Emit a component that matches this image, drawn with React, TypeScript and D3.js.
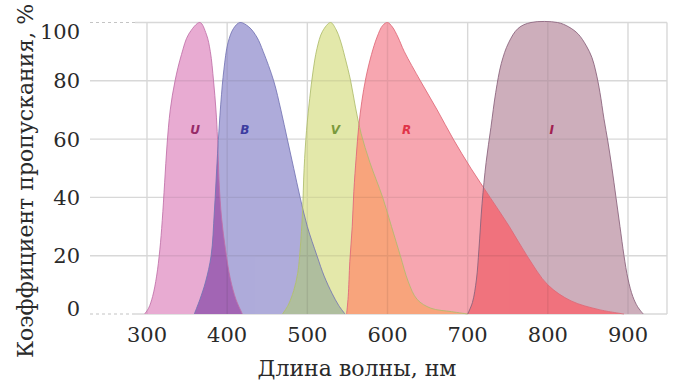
import React from "react";
import { scaleLinear, area, line, curveCatmullRom } from "d3";

// transmission curves, [wavelength nm, percent]
const uBand: [number, number][] = [
  [297, 0], [302, 2], [307, 6], [312, 13], [316, 22], [319, 32], [322, 45], [325, 58],
  [329, 70], [335, 80], [343, 89], [352, 96], [366, 100], [374, 96], [379, 90], [383, 80],
  [386, 70], [388, 60], [390, 45], [393, 33], [398, 22], [404, 12], [411, 5], [419, 0],
];
const bBand: [number, number][] = [
  [359, 0], [366, 5], [373, 11], [380, 20], [384, 35], [388, 55], [392, 72], [396, 84],
  [401, 93], [408, 98], [416, 100], [427, 98.5], [437, 95], [445, 90], [458, 80], [467, 70],
  [475, 60], [483, 50], [491, 40], [500, 30], [512, 20], [521, 13], [531, 7], [539, 3],
  [547, 0],
];
const vBand: [number, number][] = [
  [469, 0], [476, 3], [483, 8], [488, 14], [491, 22], [494, 35], [496, 50], [499, 63],
  [503, 74], [507, 83], [512, 91], [519, 97], [529, 100], [536, 97.5], [541, 94], [547, 88],
  [554, 80], [560, 71], [567, 62], [578, 52], [594, 40], [605, 30], [616, 20], [626, 11],
  [637, 5], [654, 2], [680, 0.8], [700, 0],
];
const rBand: [number, number][] = [
  [549, 0], [551, 6], [553, 18], [556, 30], [558, 42], [561, 54], [564, 64], [568, 73],
  [573, 81], [580, 89], [587, 95], [594, 99], [600, 100], [606, 98.5], [613, 95], [621, 90],
  [641, 80], [662, 70], [682, 60], [704, 50], [728, 40], [752, 30], [774, 20], [800, 10],
  [829, 4.5], [864, 1.5], [895, 0],
];
const iBand: [number, number][] = [
  [700, 0], [706, 4], [711, 12], [714, 22], [718, 38], [723, 52], [729, 64], [735, 76],
  [742, 86], [751, 93], [763, 98], [779, 100], [812, 100], [826, 98.5], [838, 96],
  [848, 92], [855, 88], [860, 83], [865, 76], [870, 67], [875, 59], [880, 50], [885, 40],
  [890, 30], [895, 20], [900, 12], [906, 6], [912, 2.5], [919, 0],
];

const bandNames = ["U", "B", "V", "R", "I"];
const bandLabelAt = [360, 422, 535, 624, 805];
const bandFill = ["#e8acd2", "#afacda", "#e4e8aa", "#f7a6b0", "#cdafbc"];
const bandStroke = ["#c070a8", "#7474b4", "#aebc6c", "#de6878", "#88607a"];
const bandText = ["#962a68", "#3c3ca0", "#7a9a3c", "#e03448", "#a02050"];

// colour where neighbouring bands overlap: [lower band, upper band]
const overlapPairs: [number, number][] = [[0, 1], [1, 2], [2, 3], [3, 4]];
const overlapFill = ["#a266b4", "#afbe9e", "#f8a47c", "#f0737d"];

const xTicks = [300, 400, 500, 600, 700, 800, 900];
const yTicks = [0, 20, 40, 60, 80, 100];

export default function App() {
  const W = 673, H = 380;
  const left = 90, right = 667, top = 22.5, bottom = 314;
  const x = scaleLinear().domain([300, 900]).range([147, 628]);
  const y = scaleLinear().domain([0, 100]).range([bottom, top]);
  const bands = [uBand, bBand, vBand, rBand, iBand];

  const curve = curveCatmullRom.alpha(0.5);
  const fillGen = area<[number, number]>()
    .x((d) => x(d[0]))
    .y0(bottom)
    .y1((d) => y(d[1]))
    .curve(curve);
  const lineGen = line<[number, number]>()
    .x((d) => x(d[0]))
    .y((d) => y(d[1]))
    .curve(curve);

  const serif = "'DejaVu Serif', serif";
  const grid = "#d8d8d8";

  const gridLines = (stroke: string, op: number, key: string) => (
    <g key={key} opacity={op}>
      {[20, 40, 60, 80].map((t) => (
        <line key={t} x1={left} x2={right} y1={y(t)} y2={y(t)} stroke={stroke} strokeWidth={1.4} />
      ))}
      {xTicks.map((t) => (
        <line key={t} x1={x(t)} x2={x(t)} y1={top} y2={bottom} stroke={stroke} strokeWidth={1.4} />
      ))}
    </g>
  );

  return (
    <svg width={W} height={H} style={{ position: "absolute", left: 0, top: 0 }}>
      <defs>
        {bands.map((b, i) => (
          <clipPath key={i} id={"band" + i}>
            <path d={fillGen(b) || ""} />
          </clipPath>
        ))}
        <clipPath id="allBands">
          {bands.map((b, i) => (
            <path key={i} d={fillGen(b) || ""} />
          ))}
        </clipPath>
      </defs>
      <rect width={W} height={H} fill="#fff" />

      {/* grid */}
      {gridLines(grid, 1, "g0")}
      {[0, 100].map((t) => (
        <g key={t}>
          <line x1={left} x2={135} y1={y(t)} y2={y(t)} stroke="#c4c4c4" strokeWidth={1.2} strokeDasharray="3,3" />
          <line x1={135} x2={right} y1={y(t)} y2={y(t)} stroke={grid} strokeWidth={1.4} />
        </g>
      ))}
      <line x1={right} x2={right} y1={top} y2={bottom} stroke={grid} strokeWidth={1.4} />

      {/* bands */}
      {bands.map((b, i) => (
        <path key={"f" + i} d={fillGen(b) || ""} fill={bandFill[i]} />
      ))}
      {overlapPairs.map(([a, b], k) => (
        <path key={"o" + k} d={fillGen(bands[b]) || ""} fill={overlapFill[k]} clipPath={`url(#band${a})`} />
      ))}
      <g clipPath="url(#allBands)">{gridLines("#000", 0.07, "g1")}</g>
      {bands.map((b, i) => (
        <path key={"s" + i} d={lineGen(b) || ""} fill="none" stroke={bandStroke[i]} strokeWidth={1} opacity={0.85} />
      ))}

      {bandNames.map((n, i) => (
        <text
          key={n}
          x={x(bandLabelAt[i])}
          y={134}
          textAnchor="middle"
          fontFamily="'DejaVu Sans', sans-serif"
          fontWeight="bold"
          fontStyle="italic"
          fontSize={12}
          fill={bandText[i]}
        >
          {n}
        </text>
      ))}

      {/* axis labels */}
      {yTicks.map((t) => (
        <text
          key={t}
          x={80}
          y={Math.min(308, Math.max(31, y(t)))}
          dy="0.36em"
          textAnchor="end"
          fontFamily={serif}
          fontSize={21}
          fill="#2a2a2a"
        >
          {t}
        </text>
      ))}
      {xTicks.map((t) => (
        <text key={t} x={x(t)} y={342} textAnchor="middle" fontFamily={serif} fontSize={21} fill="#2a2a2a">
          {t}
        </text>
      ))}
      <text x={357} y={376} textAnchor="middle" fontFamily={serif} fontSize={22} fill="#2a2a2a">
        Длина волны, нм
      </text>
      <text
        transform="translate(33,181) rotate(-90)"
        textAnchor="middle"
        fontFamily={serif}
        fontSize={22}
        fill="#2a2a2a"
      >
        Коэффициент пропускания, %
      </text>
    </svg>
  );
}
